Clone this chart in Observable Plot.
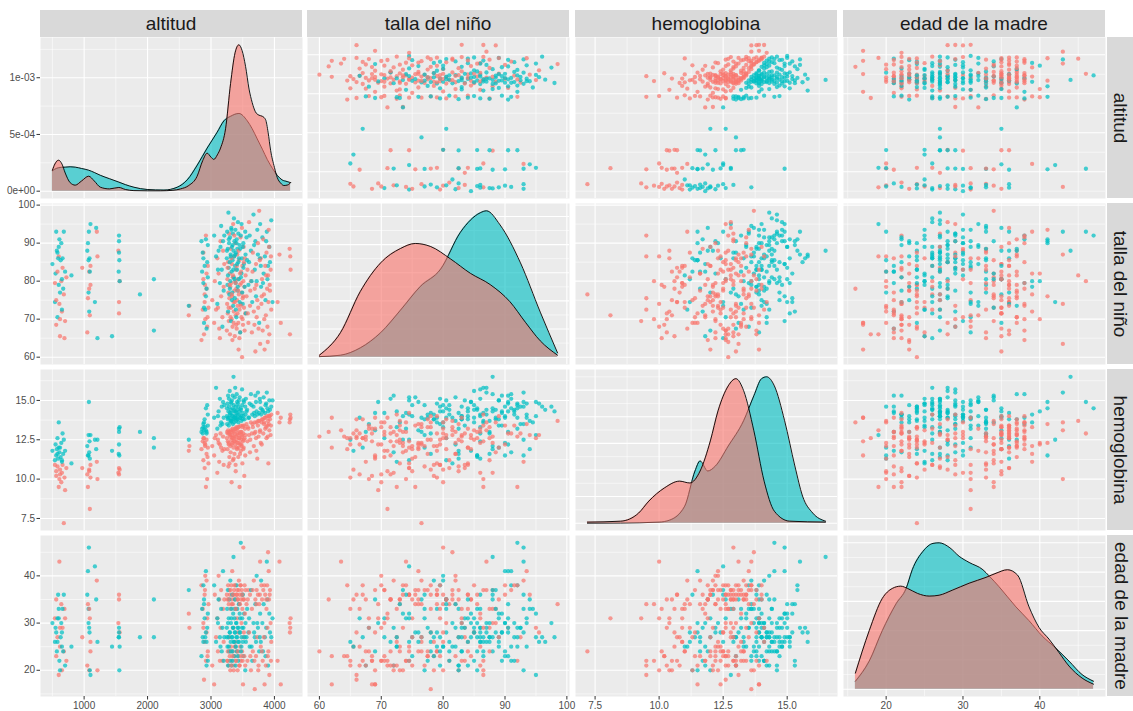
<!DOCTYPE html>
<html>
<head>
<meta charset="utf-8">
<script src="https://cdn.jsdelivr.net/npm/d3@7"></script>
<script src="https://cdn.jsdelivr.net/npm/@observablehq/plot@0.6"></script>
<style>
  body { margin: 0; background: #fff; font-family: "Liberation Sans", Arial, sans-serif; }
  #chart { position: relative; width: 1133px; height: 711px; overflow: hidden; background: #fff; }
  .strip { position: absolute; background: #D9D9D9; color: #1A1A1A; font-size: 19px;
           display: flex; align-items: center; justify-content: center; white-space: nowrap; }
  .strip.right span { display: inline-block; transform: rotate(90deg); }
  .cell { position: absolute; }
</style>
</head>
<body>
<div id="chart"></div>
<script>
// Variables of the matrix, in row/column order
const variables = ["altitud", "talla del niño", "hemoglobina", "edad de la madre"];

// Records: [altitud (m), talla (cm), hemoglobina (g/dL), edad de la madre (años)]
const conAnemia = [
  [540,79.5,10.9,31],[560,68.5,10.2,23],[580,82.5,10.8,27],[600,86.5,9.5,19],[610,74.0,10.0,43],
  [620,65.5,10.6,25],[640,80.0,9.8,34],[650,72.0,10.4,20],[660,83.5,10.9,29],[680,76.5,7.2,24],
  [690,65.0,10.1,33],[700,69.5,9.3,31],[720,81.0,10.7,22],[560,75.0,10.5,35],[620,70.0,10.3,29],
  [970,83.5,10.7,27],[1050,66.5,10.3,21],[1060,75.5,9.5,34],[1080,82.5,10.5,20],[1090,71.0,8.1,31],
  [1100,84.0,10.9,26],[1200,93.0,11.1,39],[1210,86.5,10.0,20],[1080,78.0,10.6,33],[1100,79.0,10.1,24],
  [1550,74.5,10.7,36],[1550,71.5,10.3,35],[1540,88.0,10.4,30],[1560,80.0,10.6,28],
  [2650,71.0,11.8,32],[2660,73.5,12.1,29],
  [2850,64.5,11.9,38],[2870,72.5,12.4,33],[2880,87.5,11.2,29],[2890,66.0,12.6,18],[2900,74.5,10.7,36],
  [2910,70.0,12.2,40],[2920,92.0,9.5,22],[2930,78.0,12.5,28],[2940,68.0,10.0,31],[2950,84.0,12.0,24],
  [2930,82.0,11.6,39],[2900,76.5,12.3,26],[2960,73.0,11.0,34],[2880,80.5,12.6,30],[2905,79.0,12.1,37],
  [2945,70.5,11.4,23],
  [3020,75.0,12.1,21],[3050,69.0,11.5,17],[3080,72.5,12.8,27],[3100,86.0,10.4,31],[3110,73.0,12.5,24],
  [3130,67.5,11.1,35],[3150,90.5,12.9,29],[3160,76.0,12.0,37],[3180,70.5,11.8,22],[3190,88.0,12.7,33],
  [3200,78.5,10.9,26],[3120,82.0,12.3,40],[3060,80.0,12.6,36],[3140,65.0,12.2,22],[3210,84.5,11.9,35],
  [3250,67.0,12.6,36],[3255,74.0,13.0,22],[3260,80.5,11.9,35],[3265,71.5,12.4,24],[3270,85.0,13.1,38],
  [3275,77.0,10.8,21],[3280,69.5,12.2,34],[3285,92.5,12.9,27],[3290,75.5,11.4,37],[3295,82.0,13.0,23],
  [3300,66.0,12.7,36],[3305,78.5,12.1,20],[3310,88.5,11.7,33],[3315,73.0,13.1,25],[3320,79.5,12.5,38],
  [3325,70.0,9.8,22],[3330,84.5,12.8,35],[3335,76.0,12.3,41],[3340,68.0,13.2,24],[3345,81.0,11.2,34],
  [3350,95.0,12.6,29],[3355,74.5,12.0,36],[3360,72.0,13.0,21],[3365,86.5,12.4,37],[3370,77.5,11.6,23],
  [3375,65.5,12.9,35],[3380,80.0,13.2,26],[3385,90.0,12.2,38],[3390,71.0,10.5,22],[3395,83.0,12.7,33],
  [3400,78.0,13.3,36],[3405,67.5,12.5,24],[3410,75.0,11.9,31],[3415,87.0,13.1,37],[3420,73.5,12.3,20],
  [3425,80.5,12.8,35],[3430,69.0,11.4,28],[3435,62.0,12.0,23],[3440,76.5,13.3,39],[3445,85.5,12.6,34],
  [3450,72.5,9.5,21],[3455,79.0,12.9,36],[3460,66.5,12.2,25],[3465,91.5,13.4,38],[3470,74.0,11.8,22],
  [3475,82.5,12.5,35],[3480,70.5,13.0,30],[3485,77.0,12.1,37],[3490,60.0,12.7,24],[3495,84.0,11.0,33],
  [3500,75.5,13.4,36],[3505,68.5,12.4,17],[3510,80.0,12.9,46],[3515,89.0,12.0,27],[3520,73.0,13.4,35],
  [3525,78.5,10.2,23],[3530,67.0,12.6,38],[3535,86.0,13.2,32],[3540,71.5,11.5,21],[3545,81.5,12.8,37],
  [3262,83.5,12.9,22],[3278,73.0,12.3,35],[3292,79.0,11.0,24],[3308,70.5,12.8,37],[3318,86.0,13.0,21],
  [3328,76.5,12.2,34],[3338,64.5,12.6,23],[3348,81.5,13.1,36],[3358,69.0,11.3,20],[3368,92.0,12.7,38],
  [3378,74.5,12.4,25],[3388,79.5,10.9,33],[3398,68.5,13.2,22],[3408,84.0,12.0,36],[3418,71.5,12.9,35],
  [3428,77.5,13.3,24],[3438,88.0,12.3,37],[3448,65.0,12.6,21],[3458,82.0,11.6,34],[3468,73.5,13.0,38],
  [3478,79.5,12.2,23],[3488,94.0,12.8,36],[3498,70.0,13.3,22],[3508,76.0,11.9,35],[3518,85.0,12.5,28],
  [3560,76.0,13.5,34],[3575,83.0,12.4,22],[3590,69.0,13.2,37],[3600,95.5,12.8,28],[3615,73.5,11.7,36],
  [3630,80.0,13.6,20],[3645,66.5,12.9,33],[3660,87.5,13.3,24],[3675,72.0,12.1,39],[3690,78.0,13.6,16],
  [3700,61.5,13.0,35],[3710,84.5,12.6,23],[3720,70.5,13.6,37],[3730,75.0,11.3,27],[3740,90.0,13.4,36],
  [3750,67.5,12.7,21],[3760,98.5,13.7,34],[3775,63.5,13.1,43],[3785,86.0,12.3,25],[3795,74.0,13.6,38],
  [3580,71.5,13.3,35],[3620,77.5,12.5,23],[3655,82.5,13.5,37],[3685,68.5,12.9,22],[3715,79.0,11.8,34],
  [3745,73.0,13.7,20],[3770,85.5,13.0,36],
  [3805,80.5,13.8,35],[3815,67.0,13.8,22],[3825,91.0,12.9,37],[3835,76.5,13.5,27],[3845,62.0,13.9,17],
  [3855,84.0,13.2,36],[3865,71.0,13.9,21],[3875,87.5,12.6,33],[3885,78.0,14.0,38],[3890,68.0,13.4,29],
  [3900,81.5,13.7,45],[3905,74.5,11.0,24],[3915,89.0,14.0,35],[3920,66.0,13.1,19],[3930,77.5,13.8,37],
  [3940,83.0,12.8,30],[3950,72.5,14.1,26],[3910,93.5,13.5,41],[3800,76.0,12.2,24],[3840,70.0,13.6,38],
  [3870,81.5,13.3,35],[3895,64.0,12.7,23],[3925,79.0,14.0,36],[3945,86.5,13.4,22],
  [4050,74.5,14.2,22],[4080,87.0,13.6,43],[4100,69.0,13.9,17],[4240,88.5,13.6,30],[4250,86.5,14.1,29],
  [4245,66.0,13.8,28],[4255,83.0,13.9,31]
];
const sinAnemia = [
  [500,84.5,11.8,30],[540,74.5,11.2,26],[550,82.0,12.2,29],[560,93.0,11.5,28],[570,88.0,11.9,24],
  [580,70.5,12.6,31],[590,86.0,11.3,36],[600,79.0,13.6,33],[610,91.0,11.7,22],[620,77.0,12.0,20],
  [630,85.5,11.4,27],[640,90.0,12.3,30],[650,72.5,11.1,25],[660,86.0,12.9,33],[670,78.0,11.6,24],
  [680,93.0,12.5,36],[700,82.5,11.8,21],[800,81.5,11.0,25],[580,87.5,11.6,26],[650,80.5,11.2,28],
  [600,89.0,12.0,31],
  [1050,88.0,12.1,36],[1060,90.0,11.5,41],[1070,77.0,12.8,33],[1075,93.0,14.9,46],[1080,72.0,11.7,29],
  [1085,86.0,12.4,28],[1090,82.5,11.3,20],[1100,95.0,12.8,19],[1170,74.5,12.5,42],[1190,94.0,11.9,35],
  [1070,85.5,11.5,30],
  [1440,65.5,11.8,25],[1210,65.0,12.5,26],[1550,92.0,13.2,29],[1550,87.5,13.0,27],[1555,85.5,11.5,20],
  [1545,82.5,11.6,27],[1560,80.0,13.3,25],[1550,90.5,12.2,28],[1880,76.5,13.0,27],[2100,80.5,12.6,35],
  [2100,67.0,12.0,27],
  [2650,73.5,12.5,37],
  [2850,90.5,13.0,23],[2860,82.5,13.2,33],[2870,87.5,12.9,27],[2880,79.5,13.5,38],[2890,69.0,13.1,35],
  [2900,84.0,13.8,31],[2910,72.5,13.3,27],[2920,91.0,14.5,41],[2930,67.5,13.0,21],[2940,85.0,14.7,29],
  [2950,89.5,13.4,32],[2930,78.0,12.9,26],[2890,73.0,13.6,34],[2950,81.0,14.1,22],[2880,86.0,13.3,26],
  [2920,76.0,13.1,28],
  [3050,92.0,13.9,38],[3080,86.5,15.8,26],[3100,74.0,13.2,31],[3120,88.0,14.3,35],[3140,79.5,15.1,27],
  [3160,94.5,13.6,33],[3170,83.0,14.6,24],[3180,68.0,13.5,29],[3190,90.5,14.9,41],[3200,77.5,13.9,22],
  [3110,83.0,14.0,30],[3150,89.0,13.4,25],[3210,92.0,14.7,27],
  [3250,86.0,14.0,29],[3255,93.0,13.5,33],[3260,79.0,14.8,25],[3265,88.5,13.8,37],[3270,72.0,15.3,21],
  [3275,98.0,14.3,27],[3280,83.5,13.4,31],[3285,90.0,14.6,24],[3290,76.5,13.9,35],[3295,85.0,15.6,28],
  [3300,91.5,14.1,22],[3305,80.0,13.6,39],[3310,87.0,14.4,26],[3315,69.5,14.9,30],[3320,94.0,13.7,33],
  [3325,82.5,14.2,21],[3330,89.0,15.0,27],[3335,77.0,13.8,36],[3340,85.5,14.5,24],[3345,92.5,13.5,29],
  [3350,73.5,14.0,32],[3355,88.0,16.5,44],[3360,81.0,14.7,26],[3365,86.5,13.6,23],[3370,90.5,14.3,31],
  [3375,75.5,15.2,28],[3380,84.0,14.0,35],[3385,93.5,13.9,25],[3390,79.5,14.6,21],[3395,87.5,13.7,30],
  [3400,70.5,14.2,27],[3405,91.0,15.4,38],[3410,83.0,13.8,24],[3415,88.5,14.4,33],[3420,77.5,14.1,29],
  [3425,95.5,14.8,26],[3430,85.0,13.6,22],[3440,80.5,15.0,34],[3450,89.5,14.3,28],[3460,66.5,13.9,31],
  [3470,92.0,14.5,47],[3480,82.0,13.7,25],[3490,86.0,15.7,29],[3500,74.0,14.2,36],[3510,90.0,14.0,23],
  [3520,84.5,14.9,32],[3530,78.5,13.8,27],[3540,93.0,14.6,20],[3545,87.0,14.1,30],[3550,71.5,15.1,26],
  [3252,88.0,14.5,27],[3268,81.5,13.9,30],[3282,91.0,15.1,25],[3298,78.0,14.2,28],[3312,86.5,13.7,24],
  [3322,93.5,14.8,31],[3332,75.0,14.0,27],[3342,89.5,15.3,22],[3352,83.0,13.8,29],[3362,96.5,14.4,26],
  [3372,80.5,13.9,33],[3382,87.0,15.8,28],[3392,72.5,14.3,25],[3402,90.0,13.9,30],[3412,84.5,14.9,27],
  [3422,78.5,13.8,23],[3432,92.5,14.6,29],[3442,86.0,14.1,26],[3452,74.5,15.2,32],[3462,88.5,13.9,28],
  [3472,81.0,14.4,24],[3482,95.0,14.0,27],[3492,77.0,14.7,31],[3502,89.0,13.8,26],[3512,83.5,15.0,29],
  [3570,85.5,14.4,33],[3590,79.0,13.9,28],[3610,92.0,14.8,25],[3630,88.0,15.4,37],[3650,74.5,14.1,22],
  [3670,97.5,14.6,30],[3690,83.0,14.0,27],[3700,90.5,15.3,34],[3720,80.0,14.3,40],[3740,87.0,15.5,29],
  [3760,69.0,14.2,24],[3775,95.0,14.9,32],[3785,84.0,14.5,26],[3790,78.5,14.1,39],
  [3560,91.5,14.3,27],[3600,85.0,13.9,31],[3640,80.0,14.7,25],[3680,89.5,14.2,28],[3710,76.0,14.9,26],
  [3730,93.5,14.1,30],[3770,86.0,15.1,27],
  [3810,91.5,14.4,30],[3830,82.0,15.2,34],[3850,86.5,14.2,27],[3860,75.0,14.7,23],[3880,93.0,15.5,43],
  [3890,80.5,14.5,35],[3900,84.0,14.3,21],[3920,89.0,15.0,32],[3950,96.0,14.6,27],[3970,74.5,15.0,31],
  [3820,79.5,14.3,24],[3870,90.5,14.8,29],[3930,85.0,14.4,28]
];

// Density curves on the diagonal: [value, density]
const densAltitudCon = [[500,0.000185],[540,0.000240],[597,0.000273],[650,0.000240],[702,0.000160],[780,0.000075],[860,0.000053],[960,0.000090],[1072,0.000132],[1160,0.000090],[1256,0.000035],[1400,0.000020],[1547,0.000033],[1650,0.000015],[1785,0.000005],[2000,0.000003],[2205,0.000003],[2400,0.000008],[2520,0.000020],[2650,0.000050],[2780,0.000130],[2870,0.000270],[2940,0.000335],[3000,0.000300],[3045,0.000280],[3100,0.000320],[3151,0.000380],[3230,0.000550],[3309,0.000950],[3380,0.001220],[3440,0.001290],[3490,0.001240],[3545,0.001100],[3600,0.000900],[3650,0.000780],[3700,0.000700],[3756,0.000670],[3810,0.000660],[3861,0.000630],[3900,0.000520],[3940,0.000360],[4000,0.000210],[4045,0.000120],[4100,0.000070],[4150,0.000050],[4210,0.000055],[4255,0.000075]];
const densAltitudSin = [[500,0.000180],[560,0.000200],[640,0.000210],[702,0.000212],[780,0.000215],[860,0.000212],[960,0.000200],[1072,0.000185],[1160,0.000165],[1256,0.000140],[1400,0.000110],[1547,0.000080],[1650,0.000058],[1785,0.000035],[1995,0.000015],[2258,0.000010],[2468,0.000035],[2626,0.000100],[2784,0.000230],[2940,0.000380],[3098,0.000520],[3204,0.000620],[3309,0.000660],[3440,0.000685],[3572,0.000620],[3650,0.000550],[3730,0.000460],[3810,0.000370],[3887,0.000280],[3970,0.000200],[4045,0.000140],[4120,0.000100],[4200,0.000085],[4255,0.000075]];
const densTallaCon = [[60,0.0007],[63.4,0.0087],[66.6,0.0233],[69.9,0.0335],[73.1,0.0386],[75.5,0.0404],[78,0.0393],[81.2,0.0349],[84.4,0.0298],[87.6,0.0258],[90.8,0.0197],[93.3,0.0124],[95.7,0.0058],[98.5,0.0007]];
const densTallaSin = [[60,0.0002],[63.4,0.0007],[66.6,0.0033],[69.9,0.0087],[73.1,0.0167],[76.3,0.0251],[79.6,0.0313],[82.8,0.0444],[86,0.0513],[87,0.052],[89.2,0.047],[92.5,0.0335],[95.7,0.016],[98.5,0.0015]];
const densHbCon = [[7.2,0.004],[8.5,0.0075],[9.2,0.038],[9.6,0.083],[10.2,0.132],[10.8,0.158],[11.2,0.151],[11.6,0.196],[12.0,0.309],[12.3,0.422],[12.7,0.516],[13.0,0.543],[13.3,0.498],[13.7,0.347],[14.1,0.158],[14.5,0.045],[15.1,0.0075],[16.5,0.004]];
const densHbSin = [[7.2,0.0],[8.5,0.0005],[10.0,0.004],[10.4,0.011],[11.0,0.064],[11.4,0.196],[11.6,0.234],[11.9,0.196],[12.2,0.215],[12.7,0.29],[13.3,0.385],[13.7,0.479],[14.0,0.543],[14.2,0.55],[14.5,0.516],[14.9,0.385],[15.3,0.215],[15.6,0.102],[16.0,0.038],[16.5,0.0075]];
const densEdadCon = [[16,0.0055],[17.8,0.020],[19.5,0.031],[20.8,0.0344],[21.9,0.0352],[22.8,0.0344],[24.1,0.0327],[25.6,0.0318],[26.9,0.0321],[28.6,0.0338],[30.8,0.0362],[33.0,0.0382],[34.3,0.0396],[35.8,0.0408],[37.1,0.039],[38.6,0.0281],[39.9,0.0211],[41.2,0.0171],[42.5,0.0125],[43.8,0.0079],[45.5,0.0038],[47,0.0017]];
const densEdadSin = [[16,0.0027],[17.8,0.0096],[19.5,0.020],[21.3,0.0292],[22.6,0.0344],[23.4,0.0408],[24.8,0.0471],[26.1,0.0498],[26.9,0.050],[28.3,0.0483],[29.5,0.0454],[30.8,0.0433],[32.6,0.0408],[33.4,0.0387],[34.7,0.035],[36.9,0.0281],[38.6,0.0234],[40.3,0.0182],[42.0,0.0142],[43.8,0.0096],[45.5,0.005],[47,0.0027]];

// Axis ticks and labels
const ticksAltitud = [1000, 2000, 3000, 4000];
const ticksTalla = [60, 70, 80, 90, 100];
const ticksHemoglobina = [7.5, 10, 12.5, 15];
const ticksEdad = [20, 30, 40];
const ticksDensAltitud = [0, 0.0005, 0.001];
const labelsDensAltitud = ["0e+00", "5e-04", "1e-03"];

const colorCon = "#F8766D";
const colorSin = "#00BFC4";

// ---- layout ----
const W = 262, H = 161;
const colLeft = [40, 307, 575, 843];
const rowTop = [37, 203, 369, 535];

const ticks = [ticksAltitud, ticksTalla, ticksHemoglobina, ticksEdad];
const formats = [d => String(d), d => String(d), d3.format(".1f"), d => String(d)];
const densities = [
  [densAltitudSin, densAltitudCon],
  [densTallaSin, densTallaCon],
  [densHbSin, densHbCon],
  [densEdadSin, densEdadCon]
];

// interleave the two groups so neither sits entirely on top
const registros = [];
for (let i = 0; i < Math.max(conAnemia.length, sinAnemia.length); i++) {
  if (i < sinAnemia.length) registros.push({v: sinAnemia[i], color: colorSin});
  if (i < conAnemia.length) registros.push({v: conAnemia[i], color: colorCon});
}

// ggplot-style 5% expanded domains
const domains = variables.map((_, k) => {
  const [lo, hi] = d3.extent(registros, d => d.v[k]);
  const pad = (hi - lo) * 0.05;
  return [lo - pad, hi + pad];
});

function minorOf(major, domain) {
  const step = major[1] - major[0];
  const out = [major[0] - step / 2, ...major.map(t => t + step / 2)];
  return out.filter(t => t > domain[0] && t < domain[1]);
}
function gridMarks(xMajor, xDomain, yMajor, yDomain) {
  const inX = xMajor.filter(t => t >= xDomain[0] && t <= xDomain[1]);
  const inY = yMajor.filter(t => t >= yDomain[0] && t <= yDomain[1]);
  return [
    Plot.gridX(minorOf(xMajor, xDomain), {stroke: "white", strokeOpacity: 1, strokeWidth: 0.55}),
    Plot.gridY(minorOf(yMajor, yDomain), {stroke: "white", strokeOpacity: 1, strokeWidth: 0.55}),
    Plot.gridX(inX, {stroke: "white", strokeOpacity: 1, strokeWidth: 1.1}),
    Plot.gridY(inY, {stroke: "white", strokeOpacity: 1, strokeWidth: 1.1})
  ];
}

const chart = document.getElementById("chart");
const axisStyle = {tickSize: 3.5, tickPadding: 2, stroke: "#333333", fill: "#4D4D4D", fontSize: 10};

for (let r = 0; r < 4; r++) {
  for (let c = 0; c < 4; c++) {
    const xDomain = domains[c];
    let yDomain, yTicks, yFormat;
    const marks = [Plot.frame({fill: "#EBEBEB", stroke: "none"})];

    if (r === c) {
      const [sin, con] = densities[c];
      const maxD = d3.max([...sin, ...con], d => d[1]);
      yDomain = [-0.05 * maxD, 1.05 * maxD];
      if (r === 0) {
        yTicks = ticksDensAltitud;
        yFormat = d => labelsDensAltitud[ticksDensAltitud.indexOf(d)];
      } else {
        yTicks = d3.ticks(0, maxD, 5);
      }
      marks.push(...gridMarks(ticks[c], xDomain, yTicks, yDomain));
      for (const [curve, col] of [[sin, colorSin], [con, colorCon]]) {
        marks.push(Plot.areaY(curve, {x: d => d[0], y: d => d[1], fill: col, fillOpacity: 0.62, curve: "monotone-x"}));
        marks.push(Plot.lineY(curve, {x: d => d[0], y: d => d[1], stroke: "black", strokeWidth: 0.9, curve: "monotone-x"}));
      }
    } else {
      yDomain = domains[r];
      yTicks = ticks[r];
      yFormat = formats[r];
      marks.push(...gridMarks(ticks[c], xDomain, yTicks, yDomain));
      marks.push(Plot.dot(registros, {
        x: d => d.v[c], y: d => d.v[r], fill: d => d.color,
        r: 2.15, fillOpacity: 0.72, stroke: "none"
      }));
    }

    const mLeft = c === 0 ? 40 : 0;
    const mBottom = r === 3 ? 18 : 0;
    if (c === 0) marks.push(Plot.axisY(yTicks, {...axisStyle, tickFormat: yFormat}));
    if (r === 3) marks.push(Plot.axisX(ticks[c], {...axisStyle, tickFormat: formats[c]}));

    const svg = Plot.plot({
      width: W + mLeft,
      height: H + mBottom,
      marginLeft: mLeft, marginRight: 0, marginTop: 0, marginBottom: mBottom,
      x: {domain: xDomain, axis: null},
      y: {domain: yDomain, axis: null},
      color: {type: "identity"},
      style: {fontFamily: "Liberation Sans, Arial, sans-serif", fontSize: "10px", color: "#4D4D4D",
              overflow: "visible", background: "none"},
      marks
    });
    const cell = document.createElement("div");
    cell.className = "cell";
    cell.style.left = (colLeft[c] - mLeft) + "px";
    cell.style.top = rowTop[r] + "px";
    cell.style.width = (W + mLeft) + "px";
    cell.appendChild(svg);
    chart.appendChild(cell);
  }
}

// facet strips: column labels on top, row labels on the right
variables.forEach((name, k) => {
  const top = document.createElement("div");
  top.className = "strip";
  Object.assign(top.style, {left: colLeft[k] + "px", top: "10px", width: W + "px", height: "27px"});
  top.textContent = name;
  chart.appendChild(top);

  const right = document.createElement("div");
  right.className = "strip right";
  Object.assign(right.style, {left: "1107px", top: rowTop[k] + "px", width: "27px", height: H + "px"});
  const span = document.createElement("span");
  span.textContent = name;
  right.appendChild(span);
  chart.appendChild(right);
});
</script>
</body>
</html>
